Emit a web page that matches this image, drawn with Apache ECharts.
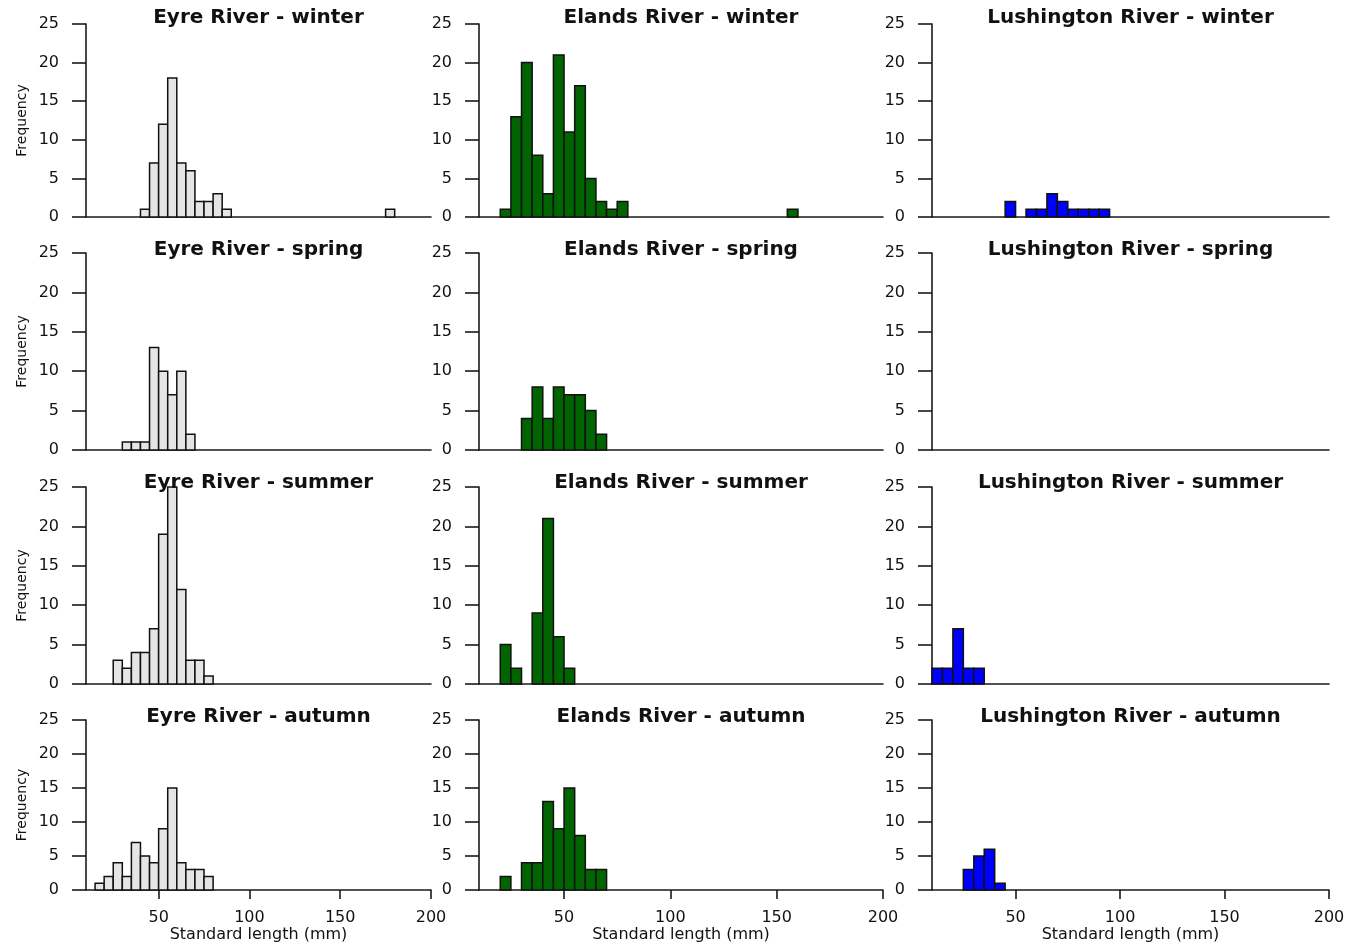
<!DOCTYPE html>
<html>
<head>
<meta charset="utf-8">
<script src="https://cdn.jsdelivr.net/npm/echarts@6/dist/echarts.min.js"></script>
<style>
  html, body { margin: 0; padding: 0; background: #ffffff; }
  #chart { width: 1349px; height: 947px; }
</style>
</head>
<body>
<div id="chart"></div>
<script>
// ---- Data (bin start in mm, bin width 5 mm; frequency per bin) ----
const BIN_WIDTH = 5;
const xTickValues = [50, 100, 150, 200];
const rivers = ['Eyre River', 'Elands River', 'Lushington River'];
const seasons = ['winter', 'spring', 'summer', 'autumn'];

const eyreWinterBins = [40, 45, 50, 55, 60, 65, 70, 75, 80, 85, 175];
const eyreWinterFreq = [1, 7, 12, 18, 7, 6, 2, 2, 3, 1, 1];
const eyreSpringBins = [30, 35, 40, 45, 50, 55, 60, 65];
const eyreSpringFreq = [1, 1, 1, 13, 10, 7, 10, 2];
const eyreSummerBins = [25, 30, 35, 40, 45, 50, 55, 60, 65, 70, 75];
const eyreSummerFreq = [3, 2, 4, 4, 7, 19, 25, 12, 3, 3, 1];
const eyreAutumnBins = [15, 20, 25, 30, 35, 40, 45, 50, 55, 60, 65, 70, 75];
const eyreAutumnFreq = [1, 2, 4, 2, 7, 5, 4, 9, 15, 4, 3, 3, 2];

const elandsWinterBins = [20, 25, 30, 35, 40, 45, 50, 55, 60, 65, 70, 75, 155];
const elandsWinterFreq = [1, 13, 20, 8, 3, 21, 11, 17, 5, 2, 1, 2, 1];
const elandsSpringBins = [30, 35, 40, 45, 50, 55, 60, 65];
const elandsSpringFreq = [4, 8, 4, 8, 7, 7, 5, 2];
const elandsSummerBins = [20, 25, 35, 40, 45, 50];
const elandsSummerFreq = [5, 2, 9, 21, 6, 2];
const elandsAutumnBins = [20, 30, 35, 40, 45, 50, 55, 60, 65];
const elandsAutumnFreq = [2, 4, 4, 13, 9, 15, 8, 3, 3];

const lushWinterBins = [45, 55, 60, 65, 70, 75, 80, 85, 90];
const lushWinterFreq = [2, 1, 1, 3, 2, 1, 1, 1, 1];
const lushSpringBins = [];
const lushSpringFreq = [];
const lushSummerBins = [10, 15, 20, 25, 30];
const lushSummerFreq = [2, 2, 7, 2, 2];
const lushAutumnBins = [25, 30, 35, 40];
const lushAutumnFreq = [3, 5, 6, 1];

const panelData = [
  [[eyreWinterBins, eyreWinterFreq], [elandsWinterBins, elandsWinterFreq], [lushWinterBins, lushWinterFreq]],
  [[eyreSpringBins, eyreSpringFreq], [elandsSpringBins, elandsSpringFreq], [lushSpringBins, lushSpringFreq]],
  [[eyreSummerBins, eyreSummerFreq], [elandsSummerBins, elandsSummerFreq], [lushSummerBins, lushSummerFreq]],
  [[eyreAutumnBins, eyreAutumnFreq], [elandsAutumnBins, elandsAutumnFreq], [lushAutumnBins, lushAutumnFreq]]
];

// ---- Layout & style ----
const colLeft = [86, 479, 932];
const colWidth = [345, 404, 397];
const rowTop = [24, 253, 487, 720];
const rowHeight = [193, 197, 197, 170];
const titleY = [18, 250, 483, 717];
const fillColors = ['#e5e5e5', '#006400', '#0000ff'];
const FONT = 'DejaVu Sans';
const AXIS_COLOR = '#1a1a1a';

const grids = [], xAxes = [], yAxes = [], series = [], graphics = [];
let idx = 0;
for (let r = 0; r < 4; r++) {
  for (let c = 0; c < 3; c++) {
    const isBottom = r === 3;
    grids.push({ left: colLeft[c], top: rowTop[r], width: colWidth[c], height: rowHeight[r], containLabel: false });
    xAxes.push({
      gridIndex: idx, type: 'value', min: 10, max: 200,
      axisLine: { show: true, onZero: false, lineStyle: { color: AXIS_COLOR, width: 1.6 } },
      axisTick: { show: isBottom, customValues: xTickValues, length: 9, lineStyle: { color: AXIS_COLOR, width: 1.6 } },
      axisLabel: { show: isBottom, customValues: xTickValues, margin: 20, fontFamily: FONT, fontSize: 16, color: '#111' },
      splitLine: { show: false },
      name: isBottom ? 'Standard length (mm)' : '',
      nameLocation: 'middle', nameGap: 37,
      nameTextStyle: { fontFamily: FONT, fontSize: 16, color: '#111' }
    });
    yAxes.push({
      gridIndex: idx, type: 'value', min: 0, max: 25, interval: 5,
      axisLine: { show: true, lineStyle: { color: AXIS_COLOR, width: 1.6 } },
      axisTick: { show: true, length: 14, lineStyle: { color: AXIS_COLOR, width: 1.6 } },
      axisLabel: { show: true, margin: 27, fontFamily: FONT, fontSize: 16, color: '#111' },
      splitLine: { show: false },
      name: c === 0 ? 'Frequency' : '',
      nameLocation: 'middle', nameGap: 57,
      nameTextStyle: { fontFamily: FONT, fontSize: 14, color: '#111' }
    });
    const bins = panelData[r][c][0], freq = panelData[r][c][1];
    const fill = fillColors[c];
    series.push({
      type: 'custom',
      xAxisIndex: idx, yAxisIndex: idx,
      data: bins.map((b, i) => [b, freq[i]]),
      encode: { x: 0, y: 1 },
      renderItem: function (params, api) {
        const x0 = api.value(0), v = api.value(1);
        const p0 = api.coord([x0, 0]);
        const p1 = api.coord([x0 + BIN_WIDTH, v]);
        return {
          type: 'rect',
          shape: { x: p0[0], y: p1[1], width: p1[0] - p0[0], height: p0[1] - p1[1] },
          style: { fill: fill, stroke: '#111', lineWidth: 1.5 }
        };
      },
      silent: true
    });
    graphics.push({
      type: 'text', z: 100,
      x: colLeft[c] + colWidth[c] / 2, y: titleY[r],
      style: {
        text: rivers[c] + ' - ' + seasons[r],
        align: 'center', verticalAlign: 'middle',
        font: 'bold 20px "DejaVu Sans"', fill: '#111'
      }
    });
    idx++;
  }
}

const chart = echarts.init(document.getElementById('chart'));
chart.setOption({
  backgroundColor: '#ffffff',
  animation: false,
  grid: grids,
  xAxis: xAxes,
  yAxis: yAxes,
  series: series,
  graphic: graphics
});
</script>
</body>
</html>
